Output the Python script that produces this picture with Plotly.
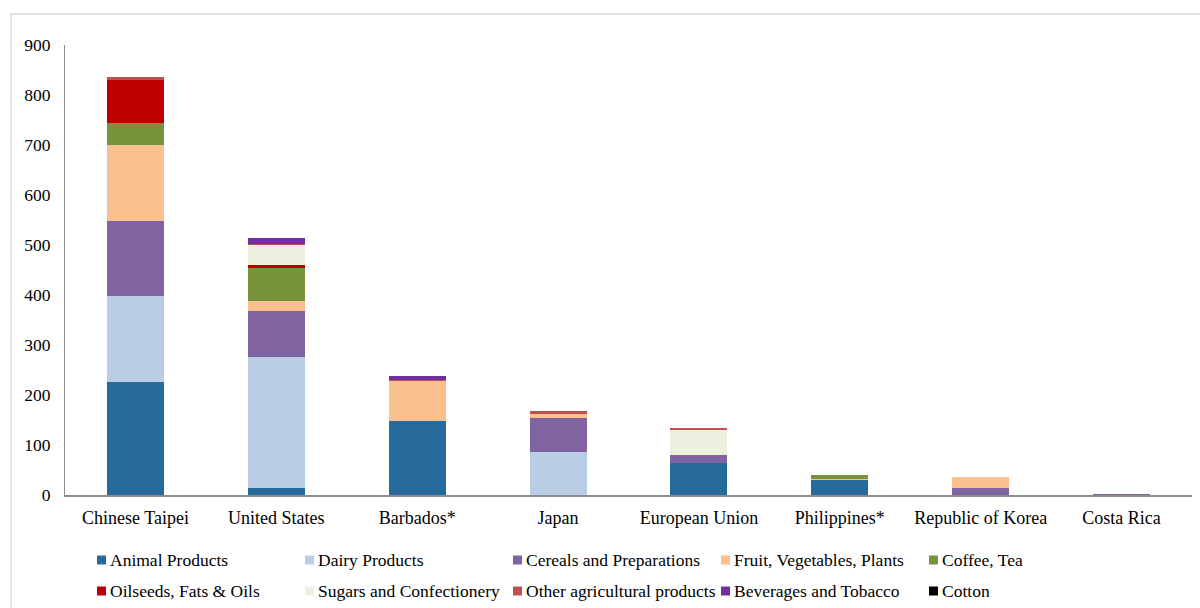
import plotly.graph_objects as go

# Markets and product groups
categories = ["Chinese Taipei", "United States", "Barbados*", "Japan",
              "European Union", "Philippines*", "Republic of Korea", "Costa Rica"]

animal_products = [226, 15, 149, 0, 65, 31, 0, 0]
dairy_products = [172, 262, 0, 87, 0, 0, 0, 0]
cereals_preparations = [150, 91, 0, 67, 16, 0, 15, 2]
fruit_vegetables = [152, 20, 79, 9, 0, 2, 21, 0]
coffee_tea = [44, 67, 0, 0, 0, 8, 0, 0]
oilseeds_fats = [86, 6, 0, 0, 0, 0, 0, 0]
sugars_confectionery = [0, 39, 0, 0, 49, 0, 0, 0]
other_agricultural = [6, 3, 3, 6, 5, 0, 0, 0]
beverages_tobacco = [0, 11, 7, 0, 0, 0, 0, 0]
cotton = [0, 0, 0, 0, 0, 0, 0, 0]

y_ticks = [0, 100, 200, 300, 400, 500, 600, 700, 800, 900]

series = [
    ("Animal Products", animal_products, "#276A9C"),
    ("Dairy Products", dairy_products, "#B9CDE5"),
    ("Cereals and Preparations", cereals_preparations, "#8064A2"),
    ("Fruit, Vegetables, Plants", fruit_vegetables, "#FAC090"),
    ("Coffee, Tea", coffee_tea, "#77933C"),
    ("Oilseeds, Fats & Oils", oilseeds_fats, "#C00000"),
    ("Sugars and Confectionery", sugars_confectionery, "#EBF1DE"),
    ("Other agricultural products", other_agricultural, "#C0504D"),
    ("Beverages and Tobacco", beverages_tobacco, "#7030A0"),
    ("Cotton", cotton, "#000000"),
]

FONT = "Liberation Serif, Times New Roman, serif"
W, H = 1200, 608
ML, MR, MT, MB = 65, 8, 45, 113
PW, PH = W - ML - MR, H - MT - MB


def px_x(px):
    return (px - ML) / PW


def px_y(py):
    return (H - MB - py) / PH


fig = go.Figure()
for name, vals, color in series:
    fig.add_trace(go.Bar(
        x=categories, y=vals, name=name,
        marker=dict(color=color, line=dict(width=0)),
        showlegend=False,
    ))

# Legend drawn as coloured squares with labels: two rows, five evenly spaced columns
shapes = []
annotations = []
for i, (name, _, color) in enumerate(series):
    lx = 97 + 208 * (i % 5)
    ly = 560 + 31 * (i // 5)
    shapes.append(dict(
        type="rect", xref="paper", yref="paper",
        x0=px_x(lx), x1=px_x(lx + 9), y0=px_y(ly + 4.5), y1=px_y(ly - 4.5),
        fillcolor=color, line=dict(width=0),
    ))
    annotations.append(dict(
        xref="paper", yref="paper", x=px_x(lx + 11), y=px_y(ly),
        xanchor="left", yanchor="middle", showarrow=False,
        text=name, font=dict(family=FONT, size=17.5, color="#000000"),
    ))

# Outer chart frame
shapes.append(dict(
    type="rect", xref="paper", yref="paper",
    x0=px_x(11), x1=px_x(1215), y0=px_y(625), y1=px_y(14),
    line=dict(color="#D9D9D9", width=1.5), fillcolor="rgba(0,0,0,0)",
    layer="below",
))

fig.update_layout(
    width=W, height=H,
    margin=dict(l=ML, r=MR, t=MT, b=MB),
    barmode="stack",
    bargap=0.595,
    plot_bgcolor="white",
    paper_bgcolor="white",
    font=dict(family=FONT, size=17.5, color="#000000"),
    shapes=shapes,
    annotations=annotations,
    xaxis=dict(
        showline=True, linecolor="#8C8C8C", linewidth=2,
        showgrid=False, ticks="", ticklabelstandoff=5,
        tickfont=dict(family=FONT, size=18, color="#000000"),
    ),
    yaxis=dict(
        range=[0, 900], tickvals=y_ticks,
        showline=True, linecolor="#8C8C8C", linewidth=1,
        showgrid=False, zeroline=False, ticks="", ticklabelstandoff=10,
        tickfont=dict(family=FONT, size=17.5, color="#000000"),
    ),
)

fig.write_html("out.html")
